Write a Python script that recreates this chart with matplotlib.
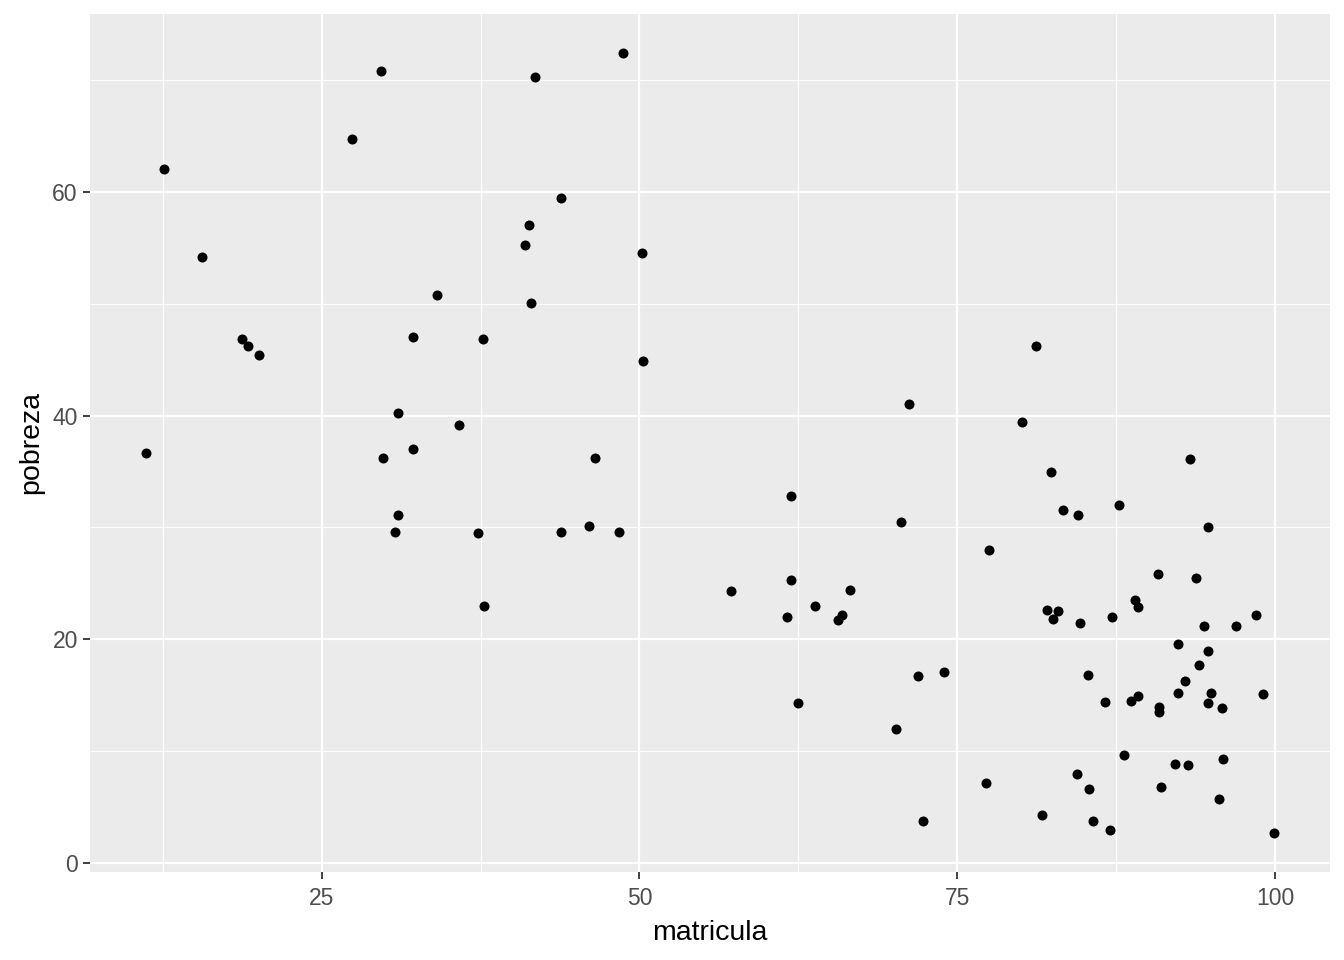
import matplotlib.pyplot as plt
from matplotlib.ticker import MultipleLocator

# valores
matricula = [11.2, 12.6, 15.6, 18.7, 19.2, 20.1, 27.4, 29.7, 29.8, 31.0,
             31.0, 30.8, 32.2, 32.2, 34.1, 35.8, 37.3, 37.7, 37.8, 41.0,
             41.3, 41.5, 41.8, 43.8, 43.8, 46.0, 46.5, 48.4, 48.7, 50.2,
             50.3, 57.2, 61.9, 61.9, 61.6, 62.5, 63.8, 65.6, 65.9, 66.6,
             70.2, 70.6, 71.2, 71.9, 72.3, 74.0, 77.3, 77.5, 80.1, 81.2,
             81.7, 82.1, 82.4, 82.5, 82.9, 83.3, 84.4, 84.5, 84.7, 85.3,
             85.4, 85.7, 86.6, 87.0, 87.2, 87.7, 88.1, 88.7, 89.0, 89.2,
             89.2, 90.8, 90.9, 90.9, 91.0, 92.1, 92.4, 92.4, 92.9, 93.2,
             93.3, 93.8, 94.0, 94.4, 94.7, 94.7, 94.7, 95.0, 95.6, 95.8,
             95.9, 96.9, 98.5, 99.1, 99.9]
pobreza = [36.7, 62.0, 54.2, 46.8, 46.2, 45.4, 64.7, 70.8, 36.2, 40.2,
           31.1, 29.6, 47.0, 37.0, 50.8, 39.2, 29.5, 46.8, 23.0, 55.2,
           57.0, 50.1, 70.3, 29.6, 59.4, 30.1, 36.2, 29.6, 72.4, 54.5,
           44.9, 24.3, 32.8, 25.3, 22.0, 14.3, 23.0, 21.7, 22.2, 24.4,
           12.0, 30.5, 41.0, 16.7, 3.8, 17.1, 7.2, 28.0, 39.4, 46.2,
           4.3, 22.6, 35.0, 21.8, 22.5, 31.6, 8.0, 31.1, 21.5, 16.8,
           6.6, 3.8, 14.4, 3.0, 22.0, 32.0, 9.7, 14.5, 23.5, 22.9,
           14.9, 25.8, 14.0, 13.5, 6.8, 8.9, 19.6, 15.2, 16.3, 8.8,
           36.1, 25.5, 17.7, 21.2, 19.0, 14.3, 30.0, 15.2, 5.7, 13.9,
           9.3, 21.2, 22.2, 15.1, 2.7]

plt.rcParams['font.family'] = ['Liberation Sans', 'DejaVu Sans']

fig = plt.figure(figsize=(13.44, 9.6), dpi=100)
ax = fig.add_axes([90 / 1344, 88 / 960, 1240 / 1344, 858 / 960])

ax.set_facecolor('#EBEBEB')
for s in ax.spines.values():
    s.set_visible(False)

ax.scatter(matricula, pobreza, s=52, color='black', linewidths=0, zorder=3)
ax.margins(0.05)

ax.xaxis.set_major_locator(MultipleLocator(25))
ax.xaxis.set_minor_locator(MultipleLocator(12.5))
ax.yaxis.set_major_locator(MultipleLocator(20))
ax.yaxis.set_minor_locator(MultipleLocator(10))
ax.grid(which='major', color='white', linewidth=1.6)
ax.grid(which='minor', color='white', linewidth=0.8)
ax.set_axisbelow(True)

ax.tick_params(which='major', length=5.3, width=1.3, color='#333333',
               labelsize=16.5, labelcolor='#4D4D4D', pad=3.5)
ax.tick_params(axis='x', which='major', pad=5.5)
ax.tick_params(which='minor', length=0)

ax.set_xlabel('matricula', fontsize=20.5, labelpad=7)
ax.set_ylabel('pobreza', fontsize=20.5, labelpad=6)

fig.savefig('out.png', dpi=100)
